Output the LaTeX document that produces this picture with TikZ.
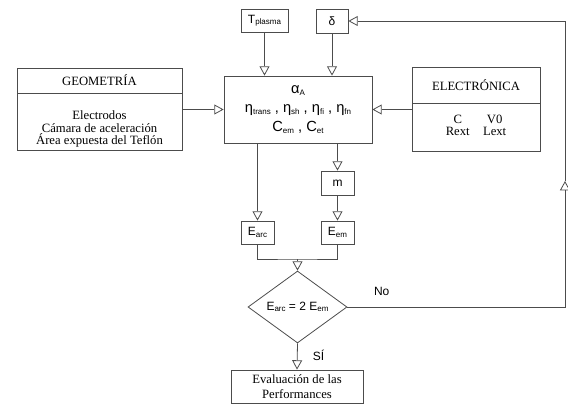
\documentclass[tikz,border=0pt]{standalone}
\usepackage{fontspec}
\setmainfont{Liberation Serif}
\newfontfamily\arialf{Liberation Sans}
\usetikzlibrary{arrows.meta,shapes.geometric}
\newcommand{\sbs}[1]{\raisebox{-0.25ex}{\fontsize{6}{6}\selectfont #1}}

\begin{document}
\begin{tikzpicture}[x=0.75pt, y=-0.75pt, >={Triangle[open,width=7.5pt,length=7pt]},
	box/.style={draw=black!70, line width=0.6pt, inner sep=0pt, align=center},
	sbox/.style={box, font=\arialf\fontsize{9}{11}\selectfont},
	rbox/.style={box, font=\fontsize{9.5}{10}\selectfont},
	line/.style={draw=black!70, line width=0.6pt}]
			\useasboundingbox (0,0) rectangle (568,404);
			% 几何
			\node[rbox, minimum width=123.75pt, minimum height=18.75pt] (geotitle) at (99.5,80.5) {GEOMETRÍA};
			\node[rbox, minimum width=123.75pt, minimum height=42.75pt] (geobody) at (99.5,121.5) {};
			\node[align=center, inner sep=0pt, font=\fontsize{9.5}{9.4}\selectfont] (geotext) at (99.5,129) {Electrodos\\Cámara de aceleración\\Área expuesta del Teflón};
			% 电子
			\node[rbox, minimum width=96pt, minimum height=27pt] (electitle) at (476,85) {ELECTRÓNICA};
			\node[rbox, minimum width=96pt, minimum height=36pt] (elecbody) at (476,127) {\begin{tabular}{@{}c@{\hspace{10pt}}c@{}}C & V0\\[-1pt] Rext & Lext\end{tabular}};
			% 参数
			\node[sbox, minimum width=111pt, minimum height=50.25pt, font=\arialf\fontsize{11}{14}\selectfont] (param) at (298,109.5)
				{α\sbs{A}\\η\sbs{trans} , η\sbs{sh} , η\sbs{fi} , η\sbs{fn}\\C\sbs{em} , C\sbs{et}};
			\node[sbox, minimum width=35.25pt, minimum height=17.25pt] (tpl) at (264.5,20.5) {T\sbs{plasma}};
			\node[sbox, minimum width=24pt, minimum height=18pt] (delta) at (332,21) {δ};
			\node[sbox, minimum width=24.75pt, minimum height=18pt] (m) at (337.5,183) {m};
			% 能量
			\node[sbox, minimum width=24.75pt, minimum height=17.25pt] (earc) at (257.5,232.5) {E\sbs{arc}};
			\node[sbox, minimum width=24.75pt, minimum height=17.25pt] (eem) at (337.5,232.5) {E\sbs{em}};
			\coordinate (merge) at (297.5,259);
			% 判断
			\node[sbox, diamond, minimum width=74.25pt, minimum height=36pt] (dia) at (297.5,307) {E\sbs{arc} = 2 E\sbs{em}};
			\node[rbox, minimum width=99pt, minimum height=24.75pt, font=\fontsize{9.5}{11}\selectfont] (eval) at (297,386.5) {Evaluación de las\\Performances};
			\coordinate (retmid) at (565,181);
			% 连线
			\draw[line,->] (tpl.south) -- (tpl.south |- param.north);
			\draw[line,->] (delta.south) -- (delta.south |- param.north);
			\draw[line,->] (geobody.east |- param.west) -- (param.west);
			\draw[line,->] (elecbody.west |- param.east) -- (param.east);
			\draw[line,->] (m.north |- param.south) -- (m.north);
			\draw[line,->] (earc.north |- param.south) -- (earc.north);
			\draw[line,->] (m.south) -- (eem.north);
			\draw[line] (earc.south) |- (merge) -| (eem.south);
			\draw[line,->] (merge) -- (dia.north);
			\draw[line,->] (dia.south) -- node[right=8pt, pos=0.45, font=\arialf\fontsize{9}{11}\selectfont] {SÍ} (eval.north);
			\draw[line,->] (dia.east) -- node[pos=0.1, anchor=south west, yshift=5pt, font=\arialf\fontsize{9}{11}\selectfont] {No} (dia.east -| retmid) -- (retmid);
			\draw[line,->] (retmid) |- (delta.east);
		\end{tikzpicture}
\end{document}
